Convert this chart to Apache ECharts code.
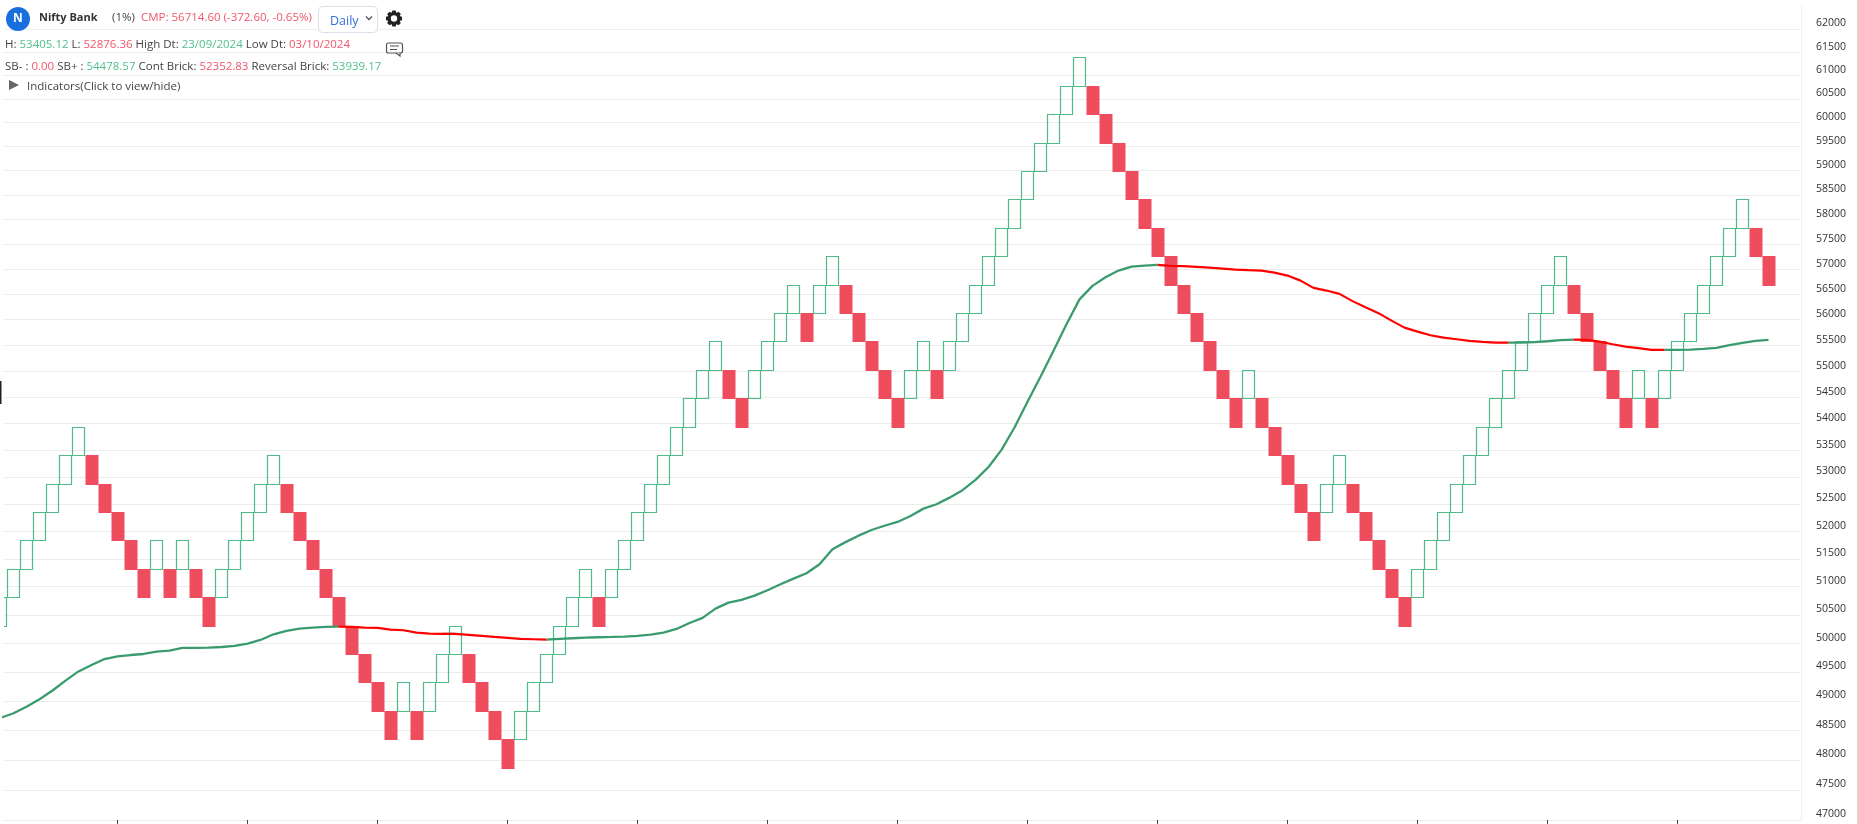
<!DOCTYPE html>
<html><head><meta charset="utf-8">
<style>html,body{margin:0;padding:0;background:#fff;overflow:hidden}#c{width:1858px;height:824px}</style>
<script src="https://cdn.jsdelivr.net/npm/echarts@6/dist/echarts.min.js"></script>
</head><body><div id="c"></div>
<script>
const priceLevels=[47868.3,48347.0,48830.5,49318.8,49812.0,50310.1,50813.2,51321.3,51834.5,52352.8,52876.4,53405.1,53939.2,54478.6,55023.4,55573.6,56129.3,56690.6,57257.5,57830.1,58408.4,58992.5,59582.4,60178.2,60780.0,61387.8];
const brickLowLevel=[5,6,7,8,9,10,11,10,9,8,7,6,7,6,7,6,5,6,7,8,9,10,9,8,7,6,5,4,3,2,1,2,1,2,3,4,3,2,1,0,1,2,3,4,5,6,5,6,7,8,9,10,11,12,13,14,13,12,13,14,15,16,15,16,17,16,15,14,13,12,13,14,13,14,15,16,17,18,19,20,21,22,23,24,23,22,21,20,19,18,17,16,15,14,13,12,13,12,11,10,9,8,9,10,9,8,7,6,5,6,7,8,9,10,11,12,13,14,15,16,17,16,15,14,13,12,13,12,13,14,15,16,17,18,19,18,17];
const brickUp=[1,1,1,1,1,1,1,0,0,0,0,0,1,0,1,0,0,1,1,1,1,1,0,0,0,0,0,0,0,0,0,1,0,1,1,1,0,0,0,0,1,1,1,1,1,1,0,1,1,1,1,1,1,1,1,1,0,0,1,1,1,1,0,1,1,0,0,0,0,0,1,1,0,1,1,1,1,1,1,1,1,1,1,1,0,0,0,0,0,0,0,0,0,0,0,0,1,0,0,0,0,0,1,1,0,0,0,0,0,1,1,1,1,1,1,1,1,1,1,1,1,0,0,0,0,0,1,0,1,1,1,1,1,1,1,0,0];
const maValues=[48710,48790,48900,49030,49180,49350,49510,49620,49725,49772,49795,49813,49853,49870,49918,49918,49923,49935,49953,49993,50058,50158,50216,50257,50275,50287,50292,50287,50275,50270,50240,50229,50187,50170,50164,50164,50147,50129,50111,50094,50076,50071,50064,50076,50088,50099,50106,50111,50117,50129,50152,50187,50252,50357,50446,50610,50717,50765,50842,50938,51045,51145,51242,51403,51675,51803,51920,52023,52101,52170,52280,52414,52495,52616,52753,52944,53184,53503,53925,54414,54892,55394,55910,56398,56666,56838,56970,57050,57070,57084,57064,57058,57044,57030,57010,56990,56978,56970,56930,56870,56770,56626,56573,56508,56364,56242,56127,55980,55843,55765,55695,55648,55617,55584,55565,55551,55551,55551,55559,55578,55598,55609,55603,55570,55520,55474,55443,55410,55410,55410,55416,55430,55449,55501,55546,55584,55603];
const maGreenSpans=[[0,26],[34,35],[42,89],[116,121],[128,136]];
const maRedSpans=[[26,34],[35,42],[89,116],[121,128]];
const yTicks=[47000,47500,48000,48500,49000,49500,50000,50500,51000,51500,52000,52500,53000,53500,54000,54500,55000,55500,56000,56500,57000,57500,58000,58500,59000,59500,60000,60500,61000,61500,62000];
const xTicks=[9,19,29,39,49,59,69,79,89,99,109,119,129];

const FONT='"Open Sans"';
const RED='#ee4d5e',GREEN='#4fbb88',TXTG='#4fbf8f',TXTR='#f2566a',DARK='#444';
const inSpans=(i,s)=>s.some(p=>i>=p[0]&&i<=p[1]);
const maGreen=maValues.map((v,i)=>[i,inSpans(i,maGreenSpans)?v:null]);
const maRed=maValues.map((v,i)=>[i,inSpans(i,maRedSpans)?v:null]);
const bricks=brickLowLevel.map((l,i)=>[i,priceLevels[l],priceLevels[l+1],brickUp[i]]);

const HF='11.5px '+FONT;
const rich={g:{fill:TXTG,font:HF},r:{fill:TXTR,font:HF},d:{fill:DARK,font:HF}};
const hdrText=(x,y,text)=>({type:'text',x,y,z:50,style:{text,rich,font:HF,fill:DARK,verticalAlign:'middle',align:'left'}});
const gearPts=[];
for(let t=0;t<8;t++){const a=t*Math.PI/4;
 [[-.36,6.4],[-.2,8.2],[.2,8.2],[.36,6.4]].forEach(p=>gearPts.push([394+p[1]*Math.cos(a+p[0]),18.5+p[1]*Math.sin(a+p[0])]));}
const graphics=[
 {type:'rect',z:40,shape:{x:0,y:381,width:1.5,height:23},style:{fill:'#222'}},
 {type:'rect',z:40,shape:{x:1857,y:0,width:1,height:824},style:{fill:'#d9d9d9'}},
 {type:'circle',z:50,shape:{cx:18,cy:19,r:12},style:{fill:'#1a6fdf'}},
 {type:'text',x:18,y:19,z:51,style:{text:'N',fill:'#fff',font:'bold 12px '+FONT,align:'center',verticalAlign:'middle'}},
 {type:'text',x:39,y:18,z:50,style:{text:'Nifty Bank',fill:'#333',font:'bold 11px '+FONT,verticalAlign:'middle'}},
 {type:'text',x:112,y:18,z:50,style:{text:'(1%)',fill:DARK,font:HF,verticalAlign:'middle'}},
 {type:'text',x:141,y:18,z:50,style:{text:'CMP: 56714.60 (-372.60, -0.65%)',fill:TXTR,font:HF,verticalAlign:'middle'}},
 {type:'rect',z:50,shape:{x:318.5,y:6.5,width:59,height:26,r:4},style:{fill:'#fff',stroke:'#dcdfea',lineWidth:1}},
 {type:'text',x:330,y:21,z:51,style:{text:'Daily',fill:'#2f6fd8',font:'12.5px '+FONT,verticalAlign:'middle'}},
 {type:'polyline',z:51,shape:{points:[[366,16.5],[369,19.5],[372,16.5]]},style:{stroke:'#555',lineWidth:1.3,fill:null}},
 {type:'polygon',z:50,shape:{points:gearPts},style:{fill:'#222'}},
 {type:'circle',z:51,shape:{cx:394,cy:18.5,r:3.2},style:{fill:'#fff'}},
 hdrText(5,45,'{d|H: }{g|53405.12}{d| L: }{r|52876.36}{d| High Dt: }{g|23/09/2024}{d| Low Dt: }{r|03/10/2024}'),
 hdrText(5,67,'{d|SB- : }{r|0.00}{d| SB+ : }{g|54478.57}{d| Cont Brick: }{r|52352.83}{d| Reversal Brick: }{g|53939.17}'),
 {type:'polygon',z:50,shape:{points:[[9,80],[19,85],[9,90]]},style:{fill:'#666'}},
 {type:'text',x:27,y:87,z:50,style:{text:'Indicators(Click to view/hide)',fill:DARK,font:HF,verticalAlign:'middle'}},
 {type:'rect',z:50,shape:{x:386.5,y:43,width:16,height:10,r:2},style:{fill:'#fff',stroke:'#555',lineWidth:1.2}},
 {type:'polyline',z:50,shape:{points:[[396,53],[400,56],[400,53]]},style:{stroke:'#555',lineWidth:1.2,fill:'#fff'}},
 {type:'line',z:51,shape:{x1:390,y1:46,x2:399,y2:46},style:{stroke:'#555',lineWidth:1}},
 {type:'line',z:51,shape:{x1:390,y1:49.5,x2:397,y2:49.5},style:{stroke:'#555',lineWidth:1}}
];

const chart=echarts.init(document.getElementById('c'),null,{renderer:'canvas'});
chart.setOption({
 animation:false,backgroundColor:'#fff',
 grid:{left:4,right:57,top:6,bottom:4,containLabel:false},
 graphic:graphics,
 xAxis:{type:'value',min:0.269,max:138.5,splitLine:{show:false},
  axisLine:{show:true,onZero:false,lineStyle:{color:'#ececec',width:1}},
  axisTick:{show:true,customValues:xTicks,length:4,lineStyle:{color:'#444',width:1}},
  axisLabel:{show:false}},
 yAxis:{type:'log',logBase:10,position:'right',min:47000,max:62500,
  splitLine:{show:true,lineStyle:{color:'#ececec',width:1}},
  minorSplitLine:{show:false},
  axisLine:{show:true,onZero:false,lineStyle:{color:'#efefef',width:1}},
  axisTick:{show:false,customValues:yTicks},
  axisLabel:{show:true,customValues:yTicks,color:'#333',fontFamily:FONT,fontSize:10.5,margin:15,verticalAlign:'bottom',lineHeight:11,hideOverlap:false,formatter:v=>String(Math.round(v))}},
 series:[
  {type:'custom',clip:true,z:2,data:bricks,encode:{x:0,y:[1,2]},silent:true,
   renderItem(params,api){
    const i=api.value(0);
    const lo=api.coord([i,api.value(1)]),hi=api.coord([i,api.value(2)]);
    const cx=lo[0],t=Math.round(hi[1]),b=Math.round(lo[1]);
    if(api.value(3)===1){
     return {type:'rect',shape:{x:Math.floor(cx-6)+.5,y:t+.5,width:12,height:b-t},style:{fill:'rgba(255,255,255,0)',stroke:GREEN,lineWidth:1.2}};
    }
    return {type:'rect',shape:{x:Math.floor(cx-6.5)+.5,y:t,width:13,height:b-t+1},style:{fill:RED}};
   }},
  {type:'line',z:3,data:maGreen,showSymbol:false,connectNulls:false,silent:true,lineStyle:{color:'#3a9c6e',width:2.3}},
  {type:'line',z:4,data:maRed,showSymbol:false,connectNulls:false,silent:true,lineStyle:{color:'#ff0000',width:2.2}}
 ]
});
</script></body></html>
